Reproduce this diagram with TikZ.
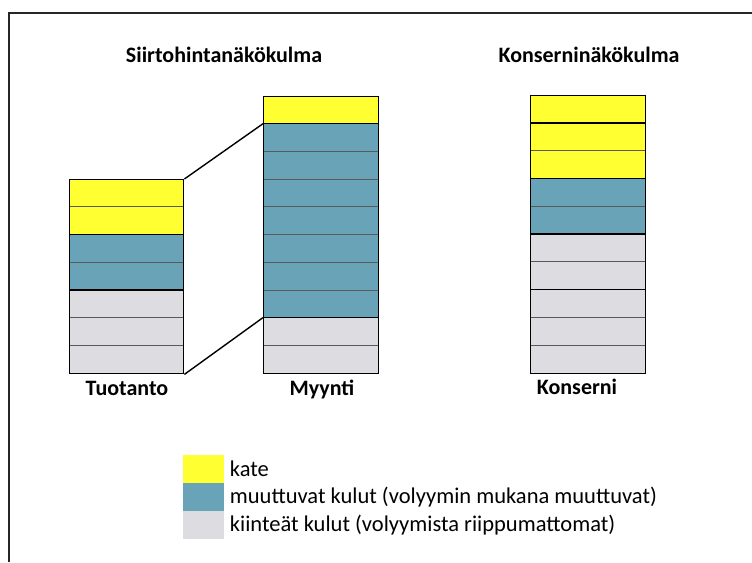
\documentclass[tikz,border=0pt]{standalone}
\usepackage{fontspec}
\setmainfont{Carlito}
\usetikzlibrary{positioning}
\definecolor{kateyellow}{RGB}{255,255,50}
\definecolor{muutblue}{RGB}{104,163,183}
\definecolor{kiintgrey}{RGB}{220,220,225}
\tikzset{
   kate/.style={fill=kateyellow},
   muut/.style={fill=muutblue},
   kiint/.style={fill=kiintgrey},
   cell/.style={draw=black!65, line width=0.7pt},
   groupline/.style={draw=black, line width=1.4pt},
   bar/.style={draw=black, line width=1.4pt, minimum width=114pt,
      inner sep=0pt, anchor=north west},
   title/.style={font=\fontsize{22}{26}\selectfont\bfseries, anchor=base},
   barlabel/.style={font=\fontsize{22}{26}\selectfont\bfseries, anchor=base},
   legtext/.style={font=\fontsize{22.5}{26}\selectfont, anchor=west},
   legbox/.style={minimum width=41pt, minimum height=28pt, inner sep=0pt,
      anchor=north west},
   }
\begin{document}
\begin{tikzpicture}[x=1pt,y=-1pt]
            \useasboundingbox (0,0) rectangle (752,562);
            \draw[line width=2.8pt, black!85] (9,562) -- (9,13) -- (752,13);

            % titles
            \node[title] (siirto) at (224,62) {Siirtohintanäkökulma};
            \node[title] (konserni-title) at (589,62) {Konserninäkökulma};

            % Tuotanto
            \foreach \i/\c in {0/kate,1/kate,2/muut,3/muut,4/kiint,5/kiint,6/kiint}
               \draw[cell,\c] (69,179+\i*27.7) rectangle ++(114,27.7);
            \draw[groupline] (69,234.4) -- (183,234.4);
            \draw[groupline] (69,290) -- (183,290);
            \node[bar, minimum height=194pt] (tuo) at (69,179) {};

            % Myynti
            \foreach \i/\c in {0/kate,1/muut,2/muut,3/muut,4/muut,5/muut,6/muut,7/muut,8/kiint,9/kiint}
               \draw[cell,\c] (263,96+\i*27.7) rectangle ++(115,27.7);
            \coordinate (myy-a) at (263,123.7);
            \coordinate (myy-b) at (263,317.6);
            \draw[groupline] (myy-a) -- ++(115,0);
            \draw[groupline] (myy-b) -- ++(115,0);
            \node[bar, minimum width=115pt, minimum height=277pt] (myy) at (263,96) {};

            % Konserni
            \foreach \i/\c in {0/kate,1/kate,2/kate,3/muut,4/muut,5/kiint,6/kiint,7/kiint,8/kiint,9/kiint}
               \draw[cell,\c] (530,95+\i*27.8) rectangle ++(115,27.8);
            \foreach \i in {1,3,5,7}
               \draw[groupline] (530,95+\i*27.8) -- ++(115,0);
            \node[bar, minimum width=115pt, minimum height=278pt] (kon) at (530,95) {};

            % connectors
            \draw[line width=1.4pt] (tuo.north east) -- (myy-a);
            \draw[line width=1.4pt] (tuo.south east) -- (myy-b);

            \node[barlabel] (tuo-lbl) at (127,395) {Tuotanto};
            \node[barlabel] (myy-lbl) at (322,395) {Myynti};
            \node[barlabel] (kon-lbl) at (577,394) {Konserni};

            % legend
            \node[legbox, kate] (leg-kate) at (183,455) {};
            \node[legbox, muut] (leg-muut) at (183,483) {};
            \node[legbox, kiint] (leg-kiint) at (183,511) {};
            \node[legtext] at ([xshift=2pt]leg-kate.east) {kate};
            \node[legtext] at ([xshift=2pt]leg-muut.east) {muuttuvat kulut (volyymin mukana muuttuvat)};
            \node[legtext] at ([xshift=2pt]leg-kiint.east) {kiinteät kulut (volyymista riippumattomat)};

        \end{tikzpicture}
\end{document}
